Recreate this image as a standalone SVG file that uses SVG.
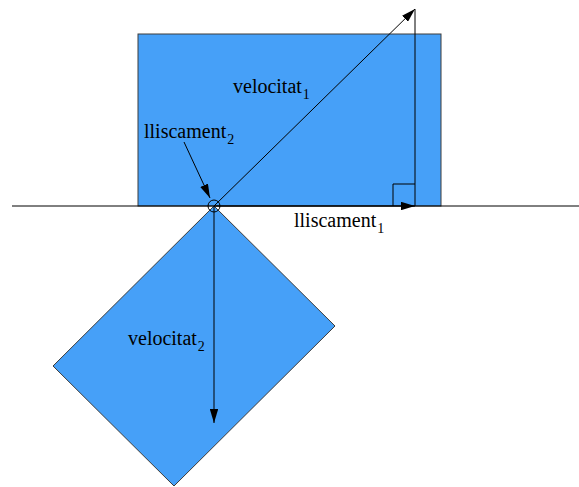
<svg xmlns="http://www.w3.org/2000/svg" width="579" height="487" viewBox="0 0 579 487">
<style>
.shape{fill:#46a0f8;stroke:#3c3c3c;stroke-width:1}
.ln{stroke:#000;stroke-width:1;fill:none}
.lbl{font-family:"Liberation Serif","Times New Roman",serif;font-size:20px;fill:#000}
.sub{font-size:14px}
</style>
<defs>
<marker id="ah" viewBox="0 0 10 6" refX="10" refY="3" markerWidth="14" markerHeight="8.4" markerUnits="userSpaceOnUse" orient="auto">
<path d="M0,0 L10,3 L0,6 Z" fill="#000"/>
</marker>
</defs>
<g id="block1"><rect class="shape" x="138" y="34" width="303" height="172"/></g>
<g id="block2"><polygon class="shape" points="214,206 335,326 174,486 53,366"/></g>
<g id="ground"><line class="ln" x1="12" y1="206" x2="579" y2="206"/></g>
<g id="rightangle"><polyline class="ln" points="393,206 393,184 415,184"/></g>
<g id="contact"><circle cx="214" cy="206" r="6" fill="none" stroke="#000" stroke-width="1"/></g>
<g id="connectors">
<line class="ln" x1="214" y1="206" x2="415" y2="9" marker-end="url(#ah)"/>
<line class="ln" x1="415" y1="9" x2="415" y2="206"/>
<line class="ln" x1="214" y1="206" x2="415" y2="206" marker-end="url(#ah)"/>
<line class="ln" x1="214" y1="206" x2="214" y2="423" marker-end="url(#ah)"/>
<line class="ln" x1="184" y1="142" x2="210" y2="198" marker-end="url(#ah)"/>
</g>
<g id="labels">
<text class="lbl" x="233" y="93">velocitat<tspan class="sub" dx="1" dy="6">1</tspan></text>
<text class="lbl" x="144" y="138">lliscament<tspan class="sub" dx="1" dy="6">2</tspan></text>
<text class="lbl" x="294" y="227">lliscament<tspan class="sub" dx="1" dy="6">1</tspan></text>
<text class="lbl" x="128" y="345">velocitat<tspan class="sub" dx="1" dy="6">2</tspan></text>
</g>
</svg>
